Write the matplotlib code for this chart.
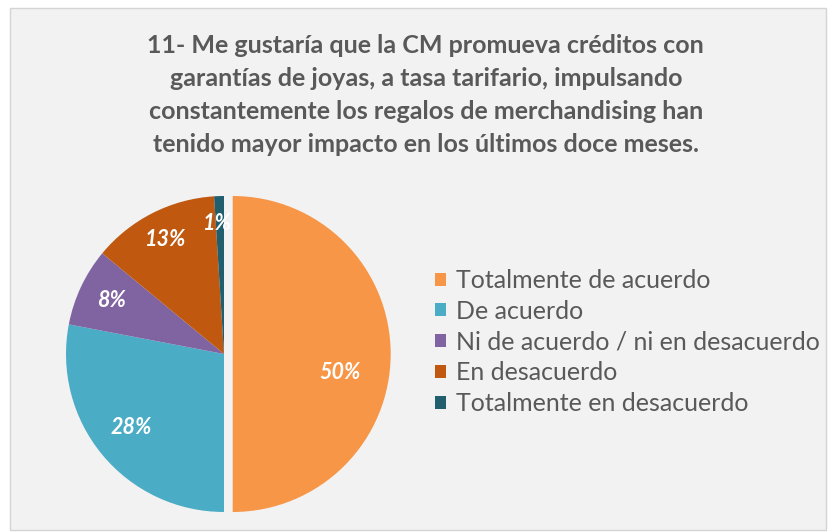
import numpy as np
import matplotlib
matplotlib.use("Agg")
import matplotlib.pyplot as plt
from matplotlib.patches import Rectangle

title = ("11- Me gustaría que la CM promueva créditos con\n"
         "garantías de joyas, a tasa tarifario, impulsando\n"
         "constantemente los regalos de merchandising han\n"
         "tenido mayor impacto en los últimos doce meses.")
categorias = ["Totalmente de acuerdo", "De acuerdo",
              "Ni de acuerdo / ni en desacuerdo", "En desacuerdo",
              "Totalmente en desacuerdo"]
porcentajes = [50, 28, 8, 13, 1]
colores = ["#F79646", "#4BACC6", "#8064A2", "#C0590F", "#215F6E"]

plt.rcParams["font.family"] = ["Lato", "DejaVu Sans"]

fig = plt.figure(figsize=(8.3, 5.32), dpi=100, facecolor="white")
fig.patches.append(Rectangle((10 / 830, 2 / 532), 816 / 830, 522 / 532,
                             transform=fig.transFigure, facecolor="#f2f2f2",
                             edgecolor="#d4d4d4", linewidth=1, zorder=-5))

fig.text(0.513, 1 - 95 / 532, title, ha="center", va="center",
         fontsize=18, fontweight="bold", color="#595959", linespacing=1.52)

ax = fig.add_axes([54 / 830, 8 / 532, 340 / 830, 340 / 532])
ax.set_facecolor("none")
wedges, _ = ax.pie(porcentajes, colors=colores, startangle=90,
                   counterclock=False, explode=[0.055, 0, 0, 0, 0],
                   wedgeprops=dict(linewidth=0))
ax.set_xlim(-1.076, 1.076)
ax.set_ylim(-1.076, 1.076)
ax.set_aspect("equal")
ax.axis("off")

# label placement (distance from centre, angle shift in degrees)
dist = [0.69, 0.75, 0.79, 0.81, 0.83]
shift = [-10, -1, 0, 0, 1]
for w, p, d, s in zip(wedges, porcentajes, dist, shift):
    ang = np.deg2rad((w.theta1 + w.theta2) / 2 + s)
    cx, cy = w.center
    ax.text(cx + d * np.cos(ang), cy + d * np.sin(ang), f"{p}%",
            ha="center", va="center", color="white", fontsize=15.5,
            fontweight="bold", fontstyle="italic")

fig.legend(wedges, categorias, loc="upper left",
           bbox_to_anchor=(435 / 830, 1 - 269 / 532), frameon=False,
           fontsize=18, labelcolor="#595959", handlelength=0.42,
           handleheight=0.42, handletextpad=0.42, labelspacing=0.31,
           borderaxespad=0, borderpad=0)

fig.savefig("out.png", dpi=100, facecolor=fig.get_facecolor())
